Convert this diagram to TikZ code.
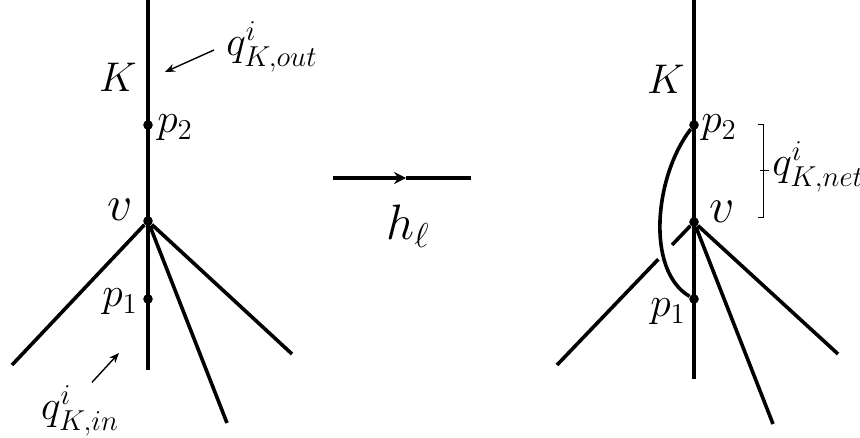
\documentclass[tikz,border=0pt]{standalone}
\usepackage{amsmath, amssymb}
\usetikzlibrary{arrows.meta, calc}

\tikzset{
  edgeline/.style={line width=1.8pt},
  pointdot/.style={circle, fill, inner sep=0pt, minimum size=4.8pt},
  lbl/.style={inner sep=0pt, font=\fontsize{20}{24}\selectfont},
  biglbl/.style={inner sep=0pt, font=\fontsize{26}{30}\selectfont},
  qlbl/.style={inner sep=0pt, font=\fontsize{20}{24}\selectfont},
  pointer/.style={-{Stealth[length=5pt, width=4pt]}, line width=0.7pt},
  bracketline/.style={line width=0.5pt},
}

\begin{document}
\begin{tikzpicture}[x=0.5pt, y=-0.5pt]
  \useasboundingbox (0,0) rectangle (860,438);
  % Baum vor h_l
  \coordinate (top1) at (148,0);
  \coordinate (bot1) at (148,370);
  \coordinate (la) at (12,365);
  \coordinate (ma) at (227,423);
  \coordinate (ra) at (292,354);
  \draw[edgeline] (top1) -- (bot1);
  \node[pointdot] (v1) at (148,221) {};
  \node[pointdot] (p2a) at (148,125) {};
  \node[pointdot] (p1a) at (148,299) {};
  \draw[edgeline] (v1) -- (la);
  \draw[edgeline] (v1) -- (ma);
  \draw[edgeline] (v1) -- (ra);
  \node[lbl] (K1) at (118,77) {$K$};
  \node[lbl] (p2alab) at (175,128) {$p_2$};
  \node[lbl] (p1alab) at (120,302) {$p_1$};
  \node[biglbl] (v1lab) at (120,210) {$v$};
  \node[qlbl, anchor=west] (qout) at (226,47) {$q^i_{K,out}$};
  \node[qlbl] (qin) at (80,411) {$q^i_{K,in}$};
  \coordinate (qouttip) at (165,72);
  \coordinate (qintip) at (119,353);
  \draw[pointer] ([xshift=-6pt, yshift=-1.5pt]qout.west) -- (qouttip);
  \draw[pointer] ([xshift=6pt, yshift=1.5pt]qin.north) -- (qintip);
  % Abbildung
  \coordinate (hstart) at (333,178);
  \coordinate (hend) at (471,178);
  \coordinate (hmid) at ($(hstart)!0.53!(hend)$);
  \draw[line width=2pt, -{Stealth[length=6pt, width=6pt]}] (hstart) -- (hmid);
  \draw[line width=2pt] (hmid) -- (hend);
  \node[biglbl] (hl) at (408,226) {$h_\ell$};
  % Baum nach h_l
  \coordinate (top2) at (694,0);
  \coordinate (bot2) at (694,379);
  \coordinate (lb) at (557,365);
  \coordinate (mb) at (773,424);
  \coordinate (rb) at (838,354);
  \draw[edgeline] (top2) -- (bot2);
  \node[pointdot] (v2) at (694,222) {};
  \node[pointdot] (p2b) at (694,125) {};
  \node[pointdot] (p1b) at (694,299) {};
  \draw[edgeline] (v2) -- ($(v2)!0.16!(lb)$);
  \draw[edgeline] ($(v2)!0.26!(lb)$) -- (lb);
  \draw[edgeline] (v2) -- (mb);
  \draw[edgeline] (v2) -- (rb);
  \draw[edgeline] (p2b) .. controls (655,175) and (645,270) .. (p1b);
  \node[lbl] (K2) at (666,79) {$K$};
  \node[lbl] (p2blab) at (719,128) {$p_2$};
  \node[lbl] (p1blab) at (668,312) {$p_1$};
  \node[biglbl] (v2lab) at (722,212) {$v$};
  % Klammer
  \coordinate (brtop) at (763,125);
  \coordinate (brbot) at (763,217);
  \draw[bracketline] ([xshift=-2.5pt]brtop) -- (brtop) -- (brbot) -- ([xshift=-2.5pt]brbot);
  \draw[bracketline] ($(brtop)!0.5!(brbot)$) ++(-1.5pt,0) -- ++(4.5pt,0);
  \node[qlbl, anchor=west] (qnet) at (772,167) {$q^i_{K,net}$};
\end{tikzpicture}
\end{document}
